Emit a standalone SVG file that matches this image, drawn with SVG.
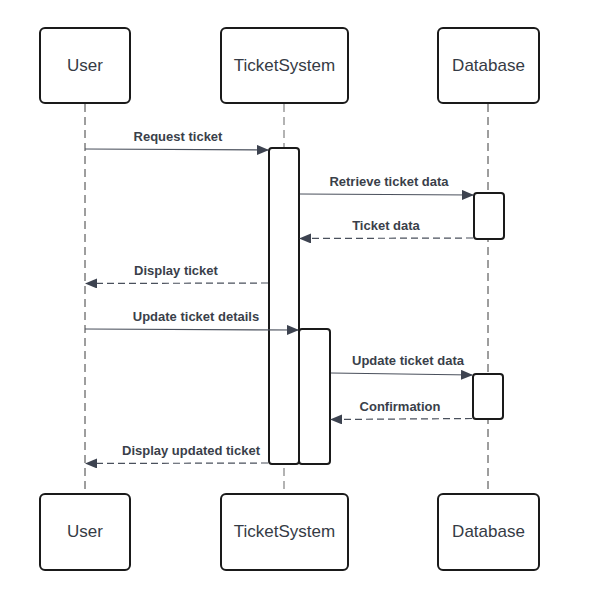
<svg xmlns="http://www.w3.org/2000/svg" width="602" height="604" viewBox="0 0 602 604">
<style>
.box{fill:#fff;stroke:#1a1a1a;stroke-width:2}
.act{fill:#fff;stroke:#1a1a1a;stroke-width:2}
.life{stroke:#3d3d3d;stroke-width:1;stroke-dasharray:8,5;fill:none}
.life2{stroke:#9a9a9a;stroke-width:1.5;stroke-dasharray:8,5;fill:none}
.nl{font-family:"Liberation Sans",Arial,sans-serif;font-size:17px;fill:#353b45;text-anchor:middle}
.ml{font-family:"Liberation Sans",Arial,sans-serif;font-size:13px;font-weight:bold;fill:#3a3f4a;text-anchor:middle}
.msg{stroke:#4a505c;stroke-width:1.2;fill:none}
.ret{stroke:#4a505c;stroke-width:1.2;fill:none;stroke-dasharray:7,4}
</style>
<defs>
<marker id="ah" markerWidth="12" markerHeight="10" refX="11" refY="5" orient="auto" markerUnits="userSpaceOnUse">
<path d="M0,0 L12,5 L0,10 Z" fill="#3d4350"/>
</marker>
</defs>
<rect width="602" height="604" fill="#fff"/>
<g id="lifelines">
<line class="life" x1="85" y1="104" x2="85" y2="494"/>
<line class="life2" x1="284" y1="104" x2="284" y2="494"/>
<line class="life" x1="488" y1="104" x2="488" y2="494"/>
</g>
<g id="user-top"><rect class="box" x="40" y="28" width="90" height="75" rx="5"/><text class="nl" x="85" y="71">User</text></g>
<g id="ticketsystem-top"><rect class="box" x="221" y="28" width="127" height="75" rx="5"/><text class="nl" x="284.5" y="71">TicketSystem</text></g>
<g id="database-top"><rect class="box" x="438" y="28" width="101" height="75" rx="5"/><text class="nl" x="488.5" y="71">Database</text></g>
<g id="user-bottom"><rect class="box" x="40" y="494" width="90" height="76" rx="5"/><text class="nl" x="85" y="537">User</text></g>
<g id="ticketsystem-bottom"><rect class="box" x="221" y="494" width="127" height="76" rx="5"/><text class="nl" x="284.5" y="537">TicketSystem</text></g>
<g id="database-bottom"><rect class="box" x="438" y="494" width="101" height="76" rx="5"/><text class="nl" x="488.5" y="537">Database</text></g>
<g id="activations">
<rect class="act" x="269" y="148" width="30" height="316" rx="3"/>
<rect class="act" x="299" y="329" width="31" height="135" rx="3"/>
<rect class="act" x="474" y="193" width="30" height="46" rx="3"/>
<rect class="act" x="473" y="374" width="30" height="45" rx="3"/>
</g>
<g id="connectors">
<line class="msg" x1="85" y1="149" x2="268" y2="150" marker-end="url(#ah)"/>
<text class="ml" x="178" y="141">Request ticket</text>
<line class="msg" x1="300" y1="194" x2="473" y2="195" marker-end="url(#ah)"/>
<text class="ml" x="389" y="186">Retrieve ticket data</text>
<line class="ret" x1="473" y1="238" x2="300" y2="238.5" marker-end="url(#ah)"/>
<text class="ml" x="386" y="230">Ticket data</text>
<line class="ret" x1="268" y1="283" x2="86" y2="283.5" marker-end="url(#ah)"/>
<text class="ml" x="176" y="275">Display ticket</text>
<line class="msg" x1="85" y1="329" x2="298" y2="330" marker-end="url(#ah)"/>
<text class="ml" x="196" y="321">Update ticket details</text>
<line class="msg" x1="331" y1="373" x2="472" y2="375" marker-end="url(#ah)"/>
<text class="ml" x="408" y="365">Update ticket data</text>
<line class="ret" x1="472" y1="418.5" x2="331" y2="419.5" marker-end="url(#ah)"/>
<text class="ml" x="400" y="411">Confirmation</text>
<line class="ret" x1="268" y1="463" x2="86" y2="463.5" marker-end="url(#ah)"/>
<text class="ml" x="191" y="455">Display updated ticket</text>
</g>
</svg>
